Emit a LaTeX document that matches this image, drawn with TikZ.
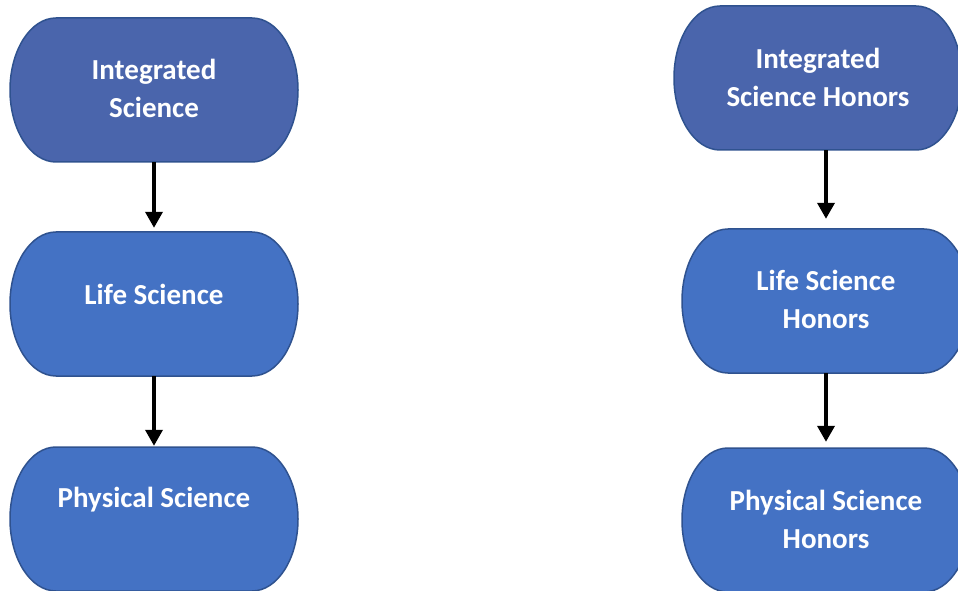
\documentclass[tikz,border=0pt]{standalone}
\usepackage{fontspec}
\setmainfont{Carlito}
\usepackage{tikz}
\usetikzlibrary{arrows.meta}
\usetikzlibrary{calc}

\definecolor{topblue}{HTML}{4A65AC}
\definecolor{boxblue}{HTML}{4472C4}
\definecolor{edgeblue}{HTML}{2F528F}

\begin{document}
\begin{tikzpicture}[x=1pt,y=1pt,
    term/.style={draw=edgeblue,line width=1.5pt},
    holder/.style={minimum width=288pt,minimum height=144pt,inner sep=0pt},
    caption/.style={text=white,align=center,font=\fontsize{29}{38}\selectfont\bfseries},
    flow/.style={line width=3.6pt,-{Triangle[length=16pt,width=17pt]}}]
      \useasboundingbox (0,0) rectangle (958,590);
      \foreach \nm/\x/\y/\dy/\shade/\txt in {
          a1/154/500/2/topblue/{Integrated\\Science},
          a2/154/286/10/boxblue/{Life Science},
          a3/154/71/19/boxblue/{Physical Science},
          b1/818/512/1/topblue/{Integrated\\Science Honors},
          b2/826/289/1.5/boxblue/{Life Science\\Honors},
          b3/826/70/1/boxblue/{Physical Science\\Honors}} {
        \filldraw[term,fill=\shade] (\x-98,\y+72) -- (\x+98,\y+72)
          arc[start angle=90,end angle=-90,x radius=46,y radius=72]
          -- (\x-98,\y-72)
          arc[start angle=270,end angle=90,x radius=46,y radius=72] -- cycle;
        \node[holder] (\nm) at (\x,\y) {};
        \node[caption] (\nm-txt) at ([yshift=\dy pt]\nm.center) {\txt};
      }
      \draw[flow,shorten >=4pt] (a1.south) -- (a2.north);
      \draw[flow,shorten >=1pt] (a2.south) -- (a3.north);
      \draw[flow,shorten >=10pt] (b1.south -| b2.north) -- (b2.north);
      \draw[flow,shorten >=6pt] (b2.south) -- (b3.north);
    \end{tikzpicture}
\end{document}
